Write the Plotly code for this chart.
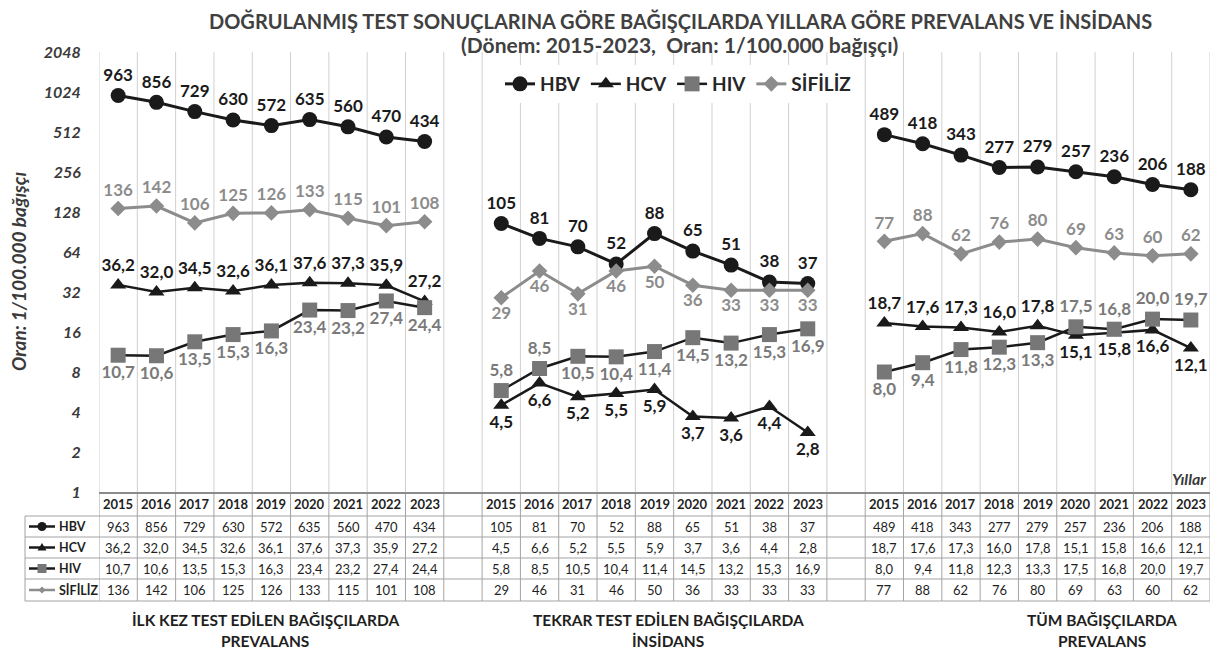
import plotly.graph_objects as go
import math

# ---------------- data ----------------
years = [2015, 2016, 2017, 2018, 2019, 2020, 2021, 2022, 2023]
group_titles = [("İLK KEZ TEST EDİLEN BAĞIŞÇILARDA", "PREVALANS"),
                ("TEKRAR TEST EDİLEN BAĞIŞÇILARDA", "İNSİDANS"),
                ("TÜM BAĞIŞÇILARDA", "PREVALANS")]
series_names = ["HBV", "HCV", "HIV", "SİFİLİZ"]

hbv_first = [963, 856, 729, 630, 572, 635, 560, 470, 434]
hbv_repeat = [105, 81, 70, 52, 88, 65, 51, 38, 37]
hbv_all = [489, 418, 343, 277, 279, 257, 236, 206, 188]

hcv_first = [36.2, 32.0, 34.5, 32.6, 36.1, 37.6, 37.3, 35.9, 27.2]
hcv_repeat = [4.5, 6.6, 5.2, 5.5, 5.9, 3.7, 3.6, 4.4, 2.8]
hcv_all = [18.7, 17.6, 17.3, 16.0, 17.8, 15.1, 15.8, 16.6, 12.1]

hiv_first = [10.7, 10.6, 13.5, 15.3, 16.3, 23.4, 23.2, 27.4, 24.4]
hiv_repeat = [5.8, 8.5, 10.5, 10.4, 11.4, 14.5, 13.2, 15.3, 16.9]
hiv_all = [8.0, 9.4, 11.8, 12.3, 13.3, 17.5, 16.8, 20.0, 19.7]

sif_first = [136, 142, 106, 125, 126, 133, 115, 101, 108]
sif_repeat = [29, 46, 31, 46, 50, 36, 33, 33, 33]
sif_all = [77, 88, 62, 76, 80, 69, 63, 60, 62]

y_ticks = [1, 2, 4, 8, 16, 32, 64, 128, 256, 512, 1024, 2048]

# label placement (T = above, B = below) per group
T, B = "top center", "bottom center"
pos_hbv = [[T] * 9, [T] * 9, [T] * 9]
pos_hcv = [[T] * 9, [B] * 9, [T] * 5 + [B] * 4]
pos_hiv = [[B] * 9, [T] * 2 + [B] * 7, [B] * 5 + [T] * 4]
pos_sif = [[T] * 9, [B] * 9, [T] * 9]

decimals = {"HBV": 0, "HCV": 1, "HIV": 1, "SİFİLİZ": 0}
series_data = {
    "HBV": [hbv_first, hbv_repeat, hbv_all],
    "HCV": [hcv_first, hcv_repeat, hcv_all],
    "HIV": [hiv_first, hiv_repeat, hiv_all],
    "SİFİLİZ": [sif_first, sif_repeat, sif_all],
}
positions = {"HBV": pos_hbv, "HCV": pos_hcv, "HIV": pos_hiv, "SİFİLİZ": pos_sif}

# ---------------- helpers ----------------
OFF = 8                     # page body margin
W, H = 1218 - OFF, 652 - OFF
def px(x):                  # page x -> paper
    return (x - OFF) / W
def py(y):                  # page y -> paper
    return 1 - (y - OFF) / H

def fmt(v, d):
    if v is None:
        return ""
    return (f"{v:.{d}f}").replace(".", ",")

def combine(groups, gap=None):
    out = []
    for i, g in enumerate(groups):
        out += list(g)
        if i < len(groups) - 1:
            out.append(gap)
    return out

n_cols = 9 * 3 + 2
xs = list(range(n_cols))
col_years = combine([years, years, years])

FONT = "Lato"
DARK = "#1f1f1f"
TXT = "#3a3a3a"

styles = {
    "HBV": dict(line=dict(color="#1a1a1a", width=3),
                marker=dict(symbol="circle", size=15, color="#1a1a1a"),
                tcol="#1a1a1a"),
    "HCV": dict(line=dict(color="#1a1a1a", width=2.5),
                marker=dict(symbol="triangle-up", size=14, color="#1a1a1a"),
                tcol="#1a1a1a"),
    "HIV": dict(line=dict(color="#1a1a1a", width=2.5),
                marker=dict(symbol="square", size=15, color="#777777"),
                tcol="#7a7a7a"),
    "SİFİLİZ": dict(line=dict(color="#8c8c8c", width=3),
                    marker=dict(symbol="diamond", size=12, color="#8c8c8c"),
                    tcol="#8c8c8c"),
}

fig = go.Figure()
for name in series_names:
    vals = combine(series_data[name])
    tpos = combine(positions[name], gap=T)
    st = styles[name]
    fig.add_trace(go.Scatter(
        x=xs, y=vals, name=name, mode="lines+markers+text",
        text=[fmt(v, decimals[name]) for v in vals],
        textposition=tpos,
        textfont=dict(family=FONT, size=17, color=st["tcol"], weight="bold"),
        line=st["line"], marker=st["marker"], connectgaps=False,
        cliponaxis=False, hoverinfo="skip",
    ))

# ---------------- axes ----------------
PLOT_L, PLOT_R, PLOT_T, PLOT_B = 99, 1210, 52, 492
fig.update_xaxes(
    domain=[px(PLOT_L), px(PLOT_R)], range=[-0.5, n_cols - 0.5],
    showticklabels=False, ticks="", showgrid=False,
    showline=True, linecolor="#8a8a8a", linewidth=1.5,
    zeroline=False, automargin=False, fixedrange=True,
)
fig.update_yaxes(
    domain=[py(PLOT_B), py(PLOT_T)], type="log", range=[0, math.log10(2048)],
    tickvals=y_ticks, ticktext=[str(t) for t in y_ticks],
    showgrid=False, zeroline=False, showline=False,
    ticks="outside", ticklen=14, tickcolor="rgba(0,0,0,0)",
    tickfont=dict(family=FONT, size=16, color=TXT, style="italic", weight="bold"),
    automargin=False, fixedrange=True,
)

shapes = []
annots = []

# vertical grid lines (plot area + table)
GRID = "#d0d0d0"
TCOL = "#a3a3a3"
for i in range(n_cols + 1):
    shapes.append(dict(type="line", xref="x", yref="paper", layer="below",
                       x0=i - 0.5, x1=i - 0.5, y0=py(PLOT_T), y1=py(PLOT_B),
                       line=dict(color=GRID, width=1)))
    shapes.append(dict(type="line", xref="x", yref="paper", layer="below",
                       x0=i - 0.5, x1=i - 0.5, y0=py(PLOT_B), y1=py(601),
                       line=dict(color=TCOL, width=1)))

# ---------------- table ----------------
row_lines_y = [516, 537, 558, 579, 601]
row_centers = [526.5, 547.5, 568.5, 590]
for yy in row_lines_y:
    shapes.append(dict(type="line", xref="paper", yref="paper",
                       x0=px(25), x1=px(PLOT_R), y0=py(yy), y1=py(yy),
                       line=dict(color=TCOL, width=1)))
shapes.append(dict(type="line", xref="paper", yref="paper",
                   x0=px(25), x1=px(25), y0=py(516), y1=py(601),
                   line=dict(color=TCOL, width=1)))

# header years
for x, yv in zip(xs, col_years):
    if yv is None:
        continue
    annots.append(dict(x=x, y=py(504), xref="x", yref="paper", text=str(yv),
                       xanchor="center", yanchor="middle", showarrow=False,
                       font=dict(family=FONT, size=13, color=DARK, weight="bold")))

# values
for r, name in enumerate(series_names):
    vals = combine(series_data[name])
    for x, v in zip(xs, vals):
        if v is None:
            continue
        annots.append(dict(x=x, y=py(row_centers[r]), xref="x", yref="paper",
                           text=fmt(v, decimals[name]), showarrow=False,
                           xanchor="center", yanchor="middle",
                           font=dict(family=FONT, size=13, color=DARK)))
    # row label
    annots.append(dict(x=px(57), y=py(row_centers[r]), xref="paper", yref="paper",
                       text=name, showarrow=False, xanchor="left", yanchor="middle",
                       font=dict(family=FONT, size=12.5, color=DARK, weight="bold")))
    # icon
    lc = styles[name]["line"]["color"]
    mc = styles[name]["marker"]["color"]
    yc = py(row_centers[r])
    shapes.append(dict(type="line", xref="paper", yref="paper",
                       x0=px(29), x1=px(55), y0=yc, y1=yc,
                       line=dict(color=lc, width=2.5)))
    common = dict(xref="paper", yref="paper", xsizemode="pixel", ysizemode="pixel",
                  xanchor=px(42), yanchor=yc, fillcolor=mc, line=dict(width=0))
    if name == "HBV":
        shapes.append(dict(type="circle", x0=-4.5, x1=4.5, y0=-4.5, y1=4.5, **common))
    elif name == "HCV":
        shapes.append(dict(type="path", path="M -4.5,-3 L 4.5,-3 L 0,4.5 Z", **common))
    elif name == "HIV":
        shapes.append(dict(type="rect", x0=-4.5, x1=4.5, y0=-4.5, y1=4.5, **common))
    else:
        shapes.append(dict(type="path", path="M 0,3.5 L 3.5,0 L 0,-3.5 L -3.5,0 Z", **common))

# ---------------- titles ----------------
def note(x, y, text, size, color, **kw):
    font = dict(family=FONT, size=size, color=color, weight="bold")
    if kw.pop("italic", False):
        font["style"] = "italic"
    d = dict(x=px(x), y=py(y), xref="paper", yref="paper", showarrow=False,
             text=text, xanchor=kw.pop("xanchor", "center"), yanchor="middle", font=font)
    d.update(kw)
    annots.append(d)

note(680, 21, "DOĞRULANMIŞ TEST SONUÇLARINA GÖRE BAĞIŞÇILARDA YILLARA GÖRE PREVALANS VE İNSİDANS",
     20, "#404040")
note(679, 45, "(Dönem: 2015-2023,  Oran: 1/100.000 bağışçı)", 21, "#404040")
note(18, 272, "Oran: 1/100.000 bağışçı", 19, TXT, italic=True, textangle=-90)
note(1208, 478, "Yıllar", 16, TXT, italic=True, xanchor="right")

group_line_centers = [265, 668, 1102]
for (l1, l2), c in zip(group_titles, group_line_centers):
    note(c, 620, l1, 15.5, DARK)
    note(c, 641, l2, 15.5, DARK)

fig.update_layout(
    width=W, height=H, template="none",
    margin=dict(l=0, r=0, t=0, b=0, pad=0),
    paper_bgcolor="white", plot_bgcolor="white",
    shapes=shapes, annotations=annots,
    showlegend=True,
    legend=dict(orientation="h", x=px(500), y=py(84), xanchor="left", yanchor="middle",
                bgcolor="white", font=dict(family=FONT, size=19, color="#262626", weight="bold"),
                itemwidth=30, traceorder="normal"),
    font=dict(family=FONT),
)

fig.write_html("out.html")
